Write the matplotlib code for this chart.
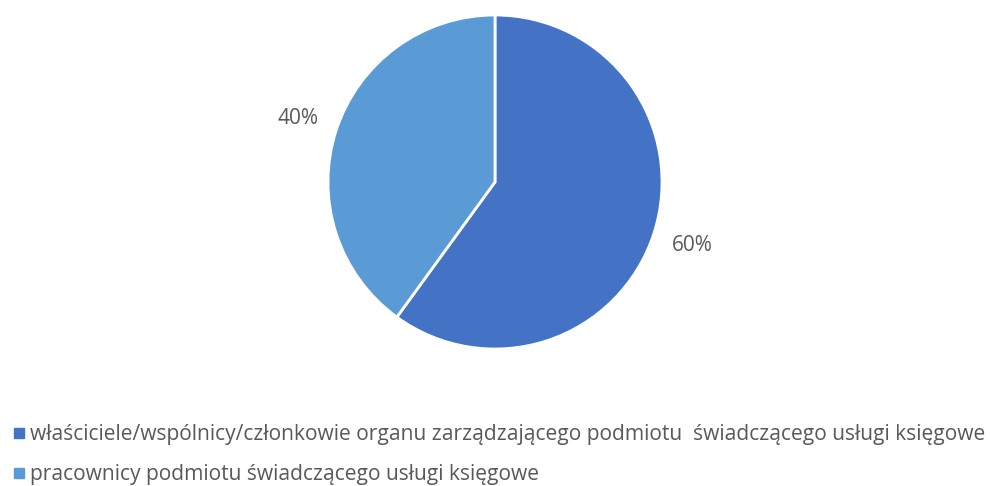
import matplotlib
matplotlib.use("Agg")
import matplotlib.pyplot as plt
from matplotlib.lines import Line2D

categories = [
    "właściciele/wspólnicy/członkowie organu zarządzającego podmiotu  świadczącego usługi księgowe",
    "pracownicy podmiotu świadczącego usługi księgowe",
]
values = [60, 40]
colors = ["#4472C4", "#5B9BD5"]
text_color = "#595959"

plt.rcParams['font.family'] = ['Open Sans', 'DejaVu Sans']

W, H = 990, 486
fig = plt.figure(figsize=(W / 100, H / 100), dpi=100)
cx, cy, r = 495, 182, 167
ax = fig.add_axes([(cx - r) / W, (H - cy - r) / H, 2 * r / W, 2 * r / H])
wedges, texts, autotexts = ax.pie(
    values, colors=colors, startangle=90, counterclock=False,
    autopct=lambda p: f"{p:.0f}%", pctdistance=1.24,
    wedgeprops=dict(edgecolor="white", linewidth=2),
    textprops=dict(color=text_color, fontsize=15),
)
ax.set_xlim(-1, 1)
ax.set_ylim(-1, 1)
ax.set_aspect("equal")
ax.axis("off")

handles = [Line2D([0], [0], marker="s", linestyle="none", markersize=6.5,
                  markerfacecolor=c, markeredgecolor=c) for c in colors]
leg = fig.legend(handles, categories, loc="upper left",
                 bbox_to_anchor=(0 / W, 1 - 416 / H), frameon=False,
                 fontsize=15.1, handletextpad=0.05, labelspacing=0.88,
                 handlelength=1.0, borderaxespad=0)
for t in leg.get_texts():
    t.set_color(text_color)

fig.savefig("out.png", dpi=100)
